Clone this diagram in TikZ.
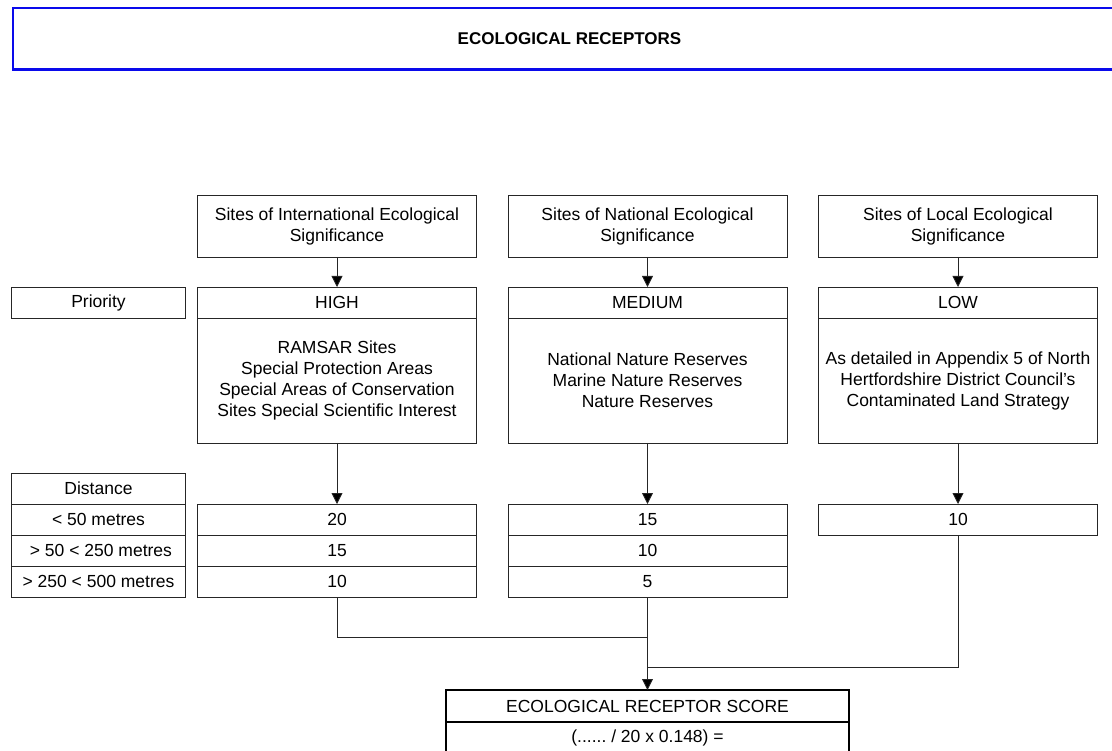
\documentclass[tikz,border=0pt]{standalone}
\usepackage{fontspec}
\setmainfont{Liberation Sans}
\usetikzlibrary{arrows.meta,positioning}
\definecolor{titleblue}{RGB}{10,10,235}
\frenchspacing

\tikzset{
  cell/.style={rectangle,draw=black!85,line width=0.8pt,outer sep=0pt,inner sep=0pt,
    minimum width=279pt,minimum height=31pt,align=center},
  sidecell/.style={cell,minimum width=174pt},
  topbox/.style={cell,minimum height=62pt},
  infobox/.style={cell,minimum height=125pt},
  scorebox/.style={cell,draw=black,line width=1.6pt,minimum width=403pt,minimum height=32pt},
  titlebox/.style={rectangle,draw=titleblue,line width=1.6pt,outer sep=0pt,
    minimum width=1113pt,minimum height=62pt,font=\bfseries\fontsize{17}{20}\selectfont},
  flow/.style={draw=black!85,line width=0.8pt},
  arr/.style={flow,-{Triangle[width=11pt,length=11pt,fill=black]}},
}

\begin{document}
\begin{tikzpicture}[x=1pt,y=-1pt,
    node distance=310.5pt,
    font=\fontsize{17.5}{21}\selectfont,
    ]
    \useasboundingbox (0,0) rectangle (1112,751);
    \node [titlebox] (title) at (569.5,39) {ECOLOGICAL RECEPTORS};
    \draw [titleblue,line width=3pt] (title.south west) -- (title.south east);

    % site classes
    \node [topbox] (intSites) at (337,226) {Sites of International Ecological\\Significance};
    \node [topbox,right of=intSites] (natSites) {Sites of National Ecological\\Significance};
    \node [topbox,right of=natSites] (locSites) {Sites of Local Ecological\\Significance};

    % priority
    \node [cell,below=30pt of intSites] (intPrio) {HIGH};
    \node [cell,below=30pt of natSites] (natPrio) {MEDIUM};
    \node [cell,below=30pt of locSites] (locPrio) {LOW};
    \node [sidecell,left=12pt of intPrio] (prio) {Priority};

    \node [infobox,below=0pt of intPrio] (intInfo) {RAMSAR Sites\\Special Protection Areas\\
      Special Areas of Conservation\\Sites Special Scientific Interest};
    \node [infobox,below=0pt of natPrio] (natInfo) {National Nature Reserves\\
      Marine Nature Reserves\\Nature Reserves};
    \node [infobox,below=0pt of locPrio] (locInfo) {As detailed in Appendix 5 of North\\
      Hertfordshire District Council{\char"27}s\\Contaminated Land Strategy};

    % distance scores
    \node [cell,below=61pt of intInfo] (int1) {20};
    \node [cell,below=0pt of int1] (int2) {15};
    \node [cell,below=0pt of int2] (int3) {10};
    \node [cell,below=61pt of natInfo] (nat1) {15};
    \node [cell,below=0pt of nat1] (nat2) {10};
    \node [cell,below=0pt of nat2] (nat3) {5};
    \node [cell,below=61pt of locInfo] (loc1) {10};

    \node [sidecell,left=12pt of int1] (d1) {< 50 metres};
    \node [sidecell,above=0pt of d1] (dist) {Distance};
    \node [sidecell,below=0pt of d1] (d2) {\ > 50 < 250 metres};
    \node [sidecell,below=0pt of d2] (d3) {> 250 < 500 metres};

    % result
    \node [scorebox] (score) at (647.5,706) {ECOLOGICAL RECEPTOR SCORE};
    \node [scorebox,below=0pt of score] (formula) {(...... / 20 x 0.148) =};

    \draw [arr] (intSites) -- (intPrio);
    \draw [arr] (natSites) -- (natPrio);
    \draw [arr] (locSites) -- (locPrio);
    \draw [arr] (intInfo) -- (int1);
    \draw [arr] (natInfo) -- (nat1);
    \draw [arr] (locInfo) -- (loc1);

    \coordinate (joinInt) at (647.5,637);
    \coordinate (joinLoc) at (647.5,667);
    \draw [flow] (int3.south) |- (joinInt);
    \draw [flow] (loc1.south) |- (joinLoc);
    \draw [arr] (nat3.south) -- (score.north);
\end{tikzpicture}
\end{document}
